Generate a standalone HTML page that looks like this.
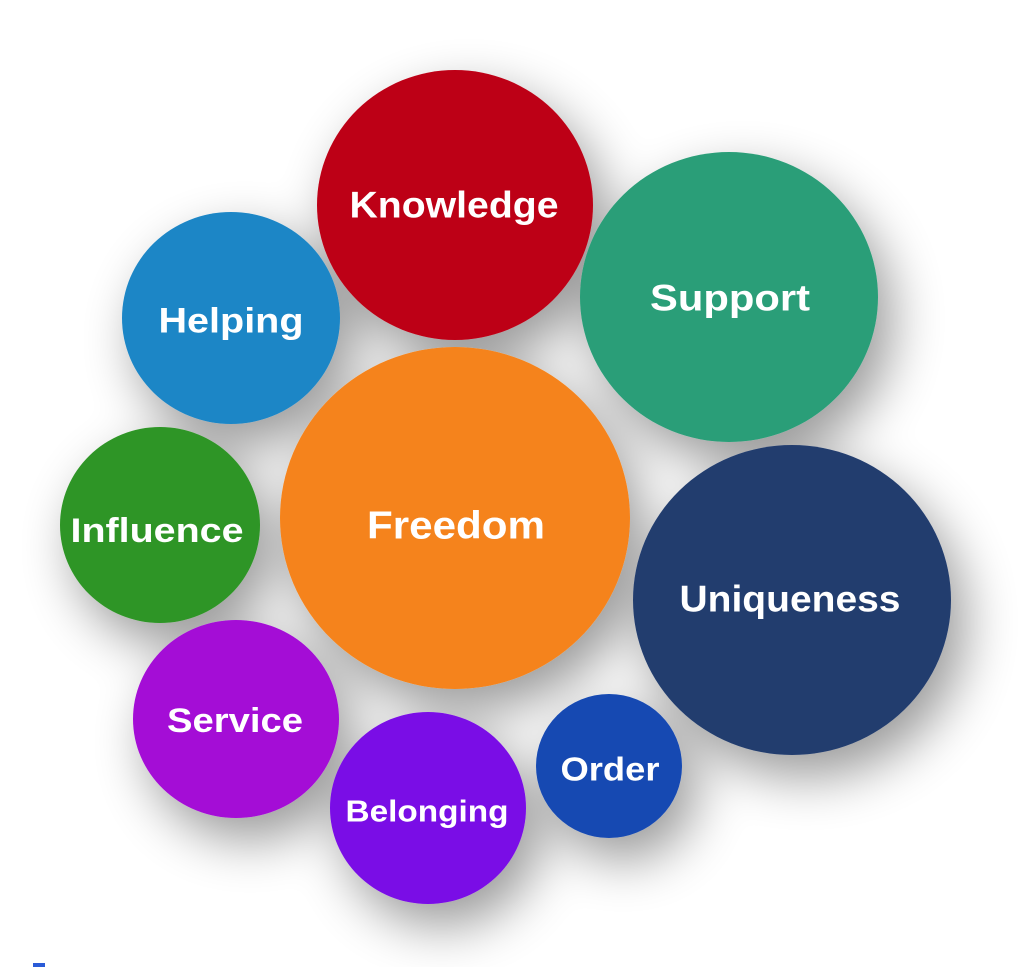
<!DOCTYPE html>
<html><head><meta charset="utf-8"><style>
html,body{margin:0;padding:0;background:#fff;width:1024px;height:967px;overflow:hidden}
text{font-family:"Liberation Sans",sans-serif;font-weight:bold;fill:#fff;text-anchor:middle;dominant-baseline:central}
</style></head><body>
<svg width="1024" height="967" viewBox="0 0 1024 967">
<defs>
<filter id="sh" x="-50%" y="-50%" width="200%" height="200%">
<feGaussianBlur in="SourceAlpha" stdDeviation="26"/>
<feOffset dx="14" dy="22" result="b"/>
<feComponentTransfer><feFuncA type="linear" slope="0.4"/></feComponentTransfer>
<feMerge><feMergeNode/><feMergeNode in="SourceGraphic"/></feMerge>
</filter>
</defs>
<g filter="url(#sh)">
<ellipse cx="792" cy="600" rx="159" ry="155" fill="#233d6e"/>
<ellipse cx="729" cy="297" rx="149" ry="145" fill="#2a9e78"/>
<ellipse cx="455" cy="205" rx="138" ry="135" fill="#bd0016"/>
<ellipse cx="231" cy="318" rx="109" ry="106" fill="#1c86c6"/>
<ellipse cx="160" cy="525" rx="100" ry="98" fill="#2f9526"/>
<ellipse cx="236" cy="719" rx="103" ry="99" fill="#a40fd6"/>
<ellipse cx="428" cy="808" rx="98" ry="96" fill="#7a0ae6"/>
<ellipse cx="609" cy="766" rx="73" ry="72" fill="#1448b2"/>
<ellipse cx="455" cy="518" rx="175" ry="171" fill="#f5831a"/>
</g>
<text x="454" y="205" font-size="37" textLength="209" lengthAdjust="spacingAndGlyphs">Knowledge</text>
<text x="730" y="298" font-size="37" textLength="160" lengthAdjust="spacingAndGlyphs">Support</text>
<text x="231" y="321" font-size="35" textLength="145" lengthAdjust="spacingAndGlyphs">Helping</text>
<text x="456" y="526" font-size="39" textLength="178" lengthAdjust="spacingAndGlyphs">Freedom</text>
<text x="157" y="531" font-size="34" textLength="173" lengthAdjust="spacingAndGlyphs">Influence</text>
<text x="790" y="599" font-size="37" textLength="221" lengthAdjust="spacingAndGlyphs">Uniqueness</text>
<text x="235" y="721" font-size="34" textLength="136" lengthAdjust="spacingAndGlyphs">Service</text>
<text x="427" y="811" font-size="31" textLength="163" lengthAdjust="spacingAndGlyphs">Belonging</text>
<text x="610" y="769" font-size="33" textLength="99" lengthAdjust="spacingAndGlyphs">Order</text>
<rect x="33" y="963" width="12" height="4" fill="#2a5bd7"/>
</svg>
</body></html>
